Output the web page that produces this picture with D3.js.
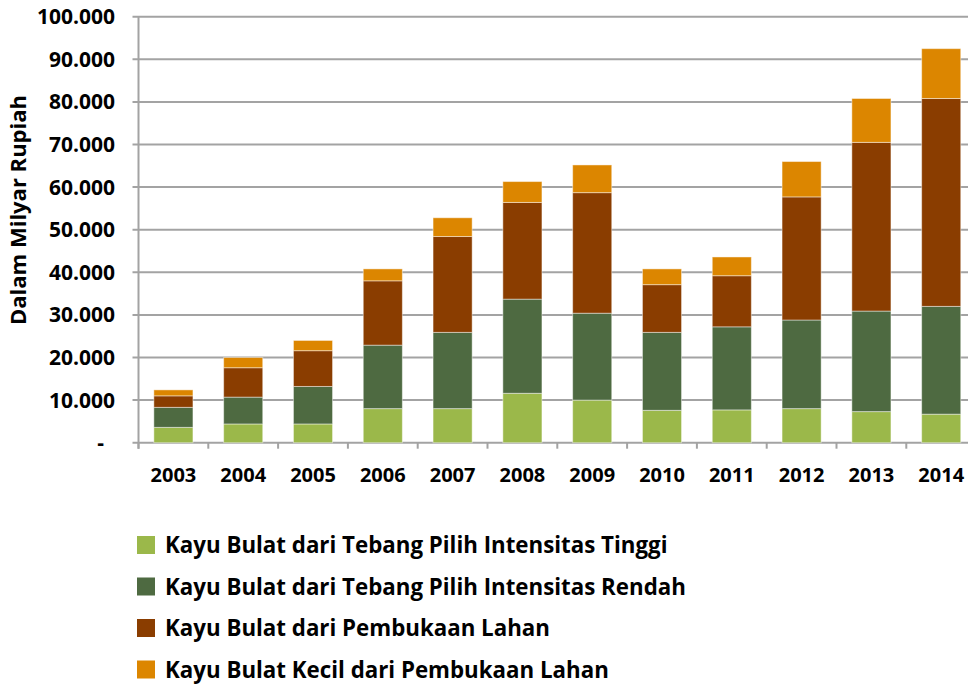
<!DOCTYPE html>
<html>
<head>
<meta charset="utf-8">
<script src="https://cdn.jsdelivr.net/npm/d3@7"></script>
<style>
  body { margin: 0; background: #fff; }
  svg text { font-family: "Open Sans", sans-serif; font-weight: bold; fill: #000; }
</style>
</head>
<body>
<div class="chart"></div>
<script>
// years on the x axis
var years = ["2003", "2004", "2005", "2006", "2007", "2008", "2009", "2010", "2011", "2012", "2013", "2014"];

// series, in Milyar Rupiah
var tinggi  = [3600, 4400, 4400, 8000, 8000, 11600, 10000, 7600, 7700, 8000, 7300, 6700];
var rendah  = [4700, 6300, 8800, 14900, 17900, 22100, 20400, 18300, 19500, 20800, 23600, 25300];
var lahan   = [2700, 6900, 8400, 15100, 22500, 22700, 28300, 11200, 12000, 28900, 39600, 48800];
var kecil   = [1400, 2400, 2400, 2800, 4400, 4900, 6500, 3700, 4400, 8300, 10300, 11700];

var seriesNames = [
  "Kayu Bulat dari Tebang Pilih Intensitas Tinggi",
  "Kayu Bulat dari Tebang Pilih Intensitas Rendah",
  "Kayu Bulat dari Pembukaan Lahan",
  "Kayu Bulat Kecil dari Pembukaan Lahan"
];
var colors = ["#9BB84A", "#4E6A41", "#8A3D00", "#DC8600"];
var yTicks = [0, 10000, 20000, 30000, 40000, 50000, 60000, 70000, 80000, 90000, 100000];

var width = 968, height = 684;
var plotLeft = 138.5, plotTop = 16.7, plotBottom = 442.7;
var band = 69.8;

var svg = d3.select(".chart").append("svg")
    .attr("width", width)
    .attr("height", height);

var table = years.map(function(y, i) {
  return { year: y, s0: tinggi[i], s1: rendah[i], s2: lahan[i], s3: kecil[i] };
});
var stack = d3.stack().keys(["s0", "s1", "s2", "s3"])(table);

var x = d3.scaleBand()
    .domain(years)
    .range([plotLeft, plotLeft + band * years.length])
    .paddingInner(0.44)
    .paddingOuter(0.22);

var y = d3.scaleLinear()
    .domain([0, 100000])
    .range([plotBottom, plotTop]);

// gridlines
svg.append("g")
  .selectAll("line")
  .data(yTicks)
  .join("line")
    .attr("x1", plotLeft - 6)
    .attr("x2", width)
    .attr("y1", function(d) { return y(d); })
    .attr("y2", function(d) { return y(d); })
    .style("stroke", "#a3a3a3")
    .style("stroke-width", 2);

// y tick labels
var fmt = function(d) { return d === 0 ? "-" : d3.format(",")(d).replace(/,/g, "."); };
svg.append("g")
  .selectAll("text")
  .data(yTicks)
  .join("text")
    .attr("x", function(d) { return d === 0 ? 104 : 115; })
    .attr("y", function(d) { return y(d); })
    .attr("dy", "0.36em")
    .attr("text-anchor", "end")
    .style("font-size", "21px")
    .text(fmt);

// bars
svg.append("g")
  .selectAll("g")
  .data(stack)
  .join("g")
    .style("fill", function(d, i) { return colors[i]; })
  .selectAll("rect")
  .data(function(d) { return d; })
  .join("rect")
    .attr("x", function(d) { return x(d.data.year); })
    .attr("width", x.bandwidth())
    .attr("y", function(d) { return y(d[1]); })
    .attr("height", function(d) { return y(d[0]) - y(d[1]); })
    .style("stroke", "rgba(255,255,255,0.45)")
    .style("stroke-width", 1);

// axis lines
svg.append("line")
    .attr("x1", plotLeft).attr("x2", plotLeft)
    .attr("y1", plotTop).attr("y2", plotBottom + 6)
    .style("stroke", "#a3a3a3").style("stroke-width", 2);

var xAxis = d3.axisBottom(x).tickSize(0).tickPadding(25);
var gx = svg.append("g")
    .attr("transform", "translate(0," + plotBottom + ")")
    .call(xAxis);
gx.select(".domain").remove();
gx.selectAll("text")
    .style("font-size", "20px")
    .style("font-family", "'Open Sans', sans-serif")
    .style("font-weight", "bold");

// x tick marks at band edges
svg.append("g")
  .selectAll("line")
  .data(d3.range(years.length + 1))
  .join("line")
    .attr("x1", function(i) { return plotLeft + band * i; })
    .attr("x2", function(i) { return plotLeft + band * i; })
    .attr("y1", plotBottom)
    .attr("y2", plotBottom + 6)
    .style("stroke", "#a3a3a3").style("stroke-width", 2);

// y axis title
svg.append("text")
    .attr("transform", "translate(26,210) rotate(-90)")
    .attr("text-anchor", "middle")
    .style("font-size", "22px")
    .text("Dalam Milyar Rupiah");

// legend
var legend = svg.append("g")
  .selectAll("g")
  .data(seriesNames)
  .join("g")
    .attr("transform", function(d, i) { return "translate(137," + (545 + i * 41.5) + ")"; });

legend.append("rect")
    .attr("x", 0).attr("y", -9)
    .attr("width", 18).attr("height", 18)
    .style("fill", function(d, i) { return colors[i]; });

legend.append("text")
    .attr("x", 28)
    .attr("dy", "0.36em")
    .style("font-size", "22.3px")
    .text(function(d) { return d; });
</script>
</body>
</html>
